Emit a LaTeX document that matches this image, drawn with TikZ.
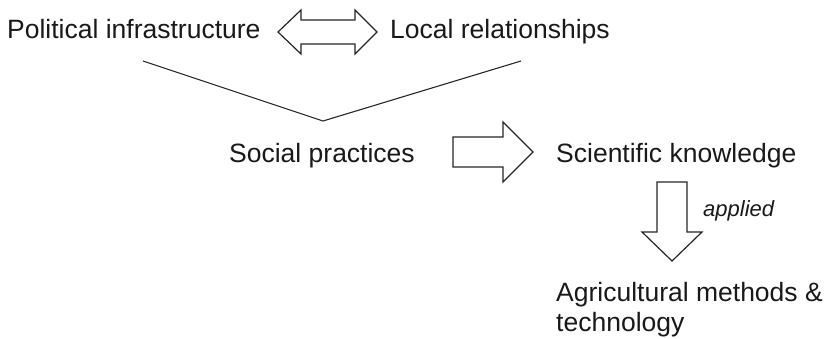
\documentclass[tikz,border=0pt]{standalone}
\usepackage{fontspec}
\setmainfont{Liberation Sans}
\begin{document}
\begin{tikzpicture}[x=1pt,y=-1pt,
  lbl/.style={font=\fontsize{26.5}{30}\selectfont, inner sep=0pt, anchor=base west, text=black!90},
  blk/.style={draw=black!85, line width=1.2pt, fill=white, line join=miter}]
\useasboundingbox (0,0) rectangle (826,339);
\node[lbl] (pol) at (7,39) {Political infrastructure};
\node[lbl] (loc) at (390,39) {Local relationships};
\node[lbl] (soc) at (229,162) {Social practices};
\node[lbl] (sci) at (556,162) {Scientific knowledge};
\node[lbl] (agr) at (556,301) {Agricultural methods \&};
\node[lbl] (tec) at (556,331) {technology};
\node[font=\fontsize{22}{24}\selectfont\itshape, inner sep=0pt, anchor=base west, text=black!90] (app) at (703,216) {applied};
% double arrow
\draw[blk] (278,32) -- (301,10) -- (301,20) -- (355,20) -- (355,10) -- (377,32) -- (355,54) -- (355,44) -- (301,44) -- (301,54) -- cycle;
% V lines
\coordinate (v) at (323,121);
\coordinate (vl) at (143,61);
\coordinate (vr) at (521,61);
\draw[line width=1.1pt, black!85] (vl) -- (v) -- (vr);
% right arrow
\draw[blk] (453,137) -- (503,137) -- (503,122) -- (533,152) -- (503,182) -- (503,167) -- (453,167) -- cycle;
% down arrow
\draw[blk] (657,182) -- (687,182) -- (687,232) -- (702,232) -- (672,261) -- (642,232) -- (657,232) -- cycle;
\end{tikzpicture}
\end{document}
